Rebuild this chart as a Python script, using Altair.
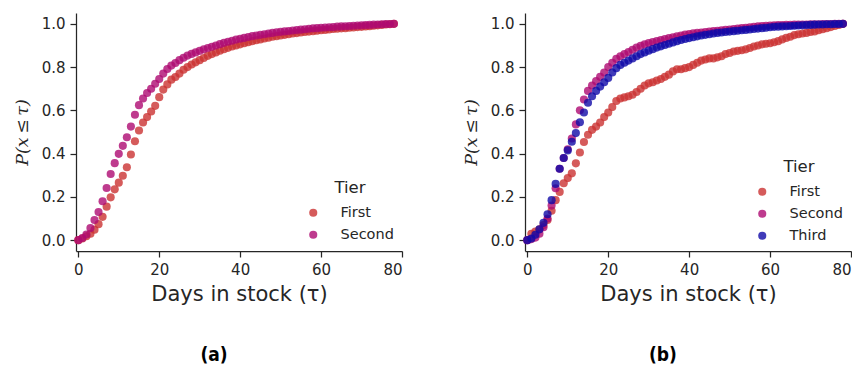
import altair as alt
import pandas as pd

days = list(range(0, 79))

# Panel (a)
a_first = [0.0, 0.008, 0.018, 0.03, 0.048, 0.074, 0.108, 0.155, 0.198, 0.235,
           0.266, 0.298, 0.337, 0.396, 0.457, 0.507, 0.544, 0.569, 0.595, 0.621,
           0.661, 0.696, 0.72, 0.742, 0.754, 0.77, 0.788, 0.80, 0.812, 0.822,
           0.832, 0.842, 0.852, 0.86, 0.868, 0.876, 0.883, 0.889, 0.895, 0.90,
           0.905, 0.91, 0.915, 0.92, 0.924, 0.928, 0.932, 0.936, 0.94, 0.943,
           0.946, 0.949, 0.952, 0.955, 0.957, 0.96, 0.962, 0.964, 0.966, 0.968,
           0.970, 0.972, 0.974, 0.976, 0.977, 0.979, 0.98, 0.982, 0.983, 0.985,
           0.986, 0.988, 0.989, 0.991, 0.993, 0.995, 0.997, 0.998, 1.0]
a_second = [0.0, 0.01, 0.026, 0.056, 0.093, 0.13, 0.18, 0.241, 0.306, 0.356,
            0.399, 0.436, 0.476, 0.525, 0.58, 0.624, 0.655, 0.68, 0.70, 0.723,
            0.745, 0.77, 0.791, 0.807, 0.819, 0.832, 0.843, 0.853, 0.861, 0.868,
            0.875, 0.882, 0.888, 0.894, 0.90, 0.906, 0.912, 0.917, 0.922, 0.927,
            0.931, 0.935, 0.939, 0.943, 0.946, 0.949, 0.952, 0.955, 0.958, 0.961,
            0.963, 0.965, 0.967, 0.969, 0.971, 0.973, 0.975, 0.977, 0.979, 0.98,
            0.982, 0.983, 0.984, 0.985, 0.987, 0.988, 0.989, 0.99, 0.991, 0.992,
            0.993, 0.994, 0.995, 0.996, 0.997, 0.998, 0.999, 0.999, 1.0]

# Panel (b)
b_first = [0.0, 0.03, 0.04, 0.05, 0.07, 0.093, 0.136, 0.185, 0.223, 0.263,
           0.287, 0.309, 0.355, 0.405, 0.454, 0.487, 0.51, 0.525, 0.544, 0.569,
           0.59, 0.615, 0.643, 0.655, 0.66, 0.665, 0.672, 0.685, 0.70, 0.715,
           0.725, 0.73, 0.738, 0.745, 0.755, 0.765, 0.78, 0.79, 0.79, 0.795,
           0.80, 0.81, 0.82, 0.83, 0.835, 0.84, 0.84, 0.845, 0.85, 0.86,
           0.865, 0.872, 0.875, 0.878, 0.882, 0.888, 0.895, 0.90, 0.905, 0.908,
           0.91, 0.915, 0.92, 0.928, 0.935, 0.94, 0.948, 0.952, 0.955, 0.958,
           0.962, 0.965, 0.97, 0.975, 0.98, 0.985, 0.99, 0.995, 1.0]
b_second = [0.0, 0.005, 0.012, 0.03, 0.06, 0.10, 0.16, 0.24, 0.33, 0.38,
            0.42, 0.47, 0.535, 0.60, 0.65, 0.69, 0.715, 0.735, 0.755, 0.775,
            0.80, 0.82, 0.838, 0.85, 0.86, 0.87, 0.88, 0.89, 0.898, 0.905,
            0.911, 0.916, 0.92, 0.925, 0.93, 0.934, 0.938, 0.942, 0.946, 0.95,
            0.953, 0.956, 0.958, 0.96, 0.962, 0.964, 0.966, 0.968, 0.97, 0.972,
            0.974, 0.976, 0.978, 0.98, 0.982, 0.984, 0.986, 0.988, 0.99, 0.991,
            0.992, 0.993, 0.994, 0.994, 0.995, 0.995, 0.996, 0.996, 0.997, 0.997,
            0.998, 0.998, 0.998, 0.999, 0.999, 0.999, 1.0, 1.0, 1.0]
b_third = [0.0, 0.008, 0.025, 0.05, 0.08, 0.12, 0.185, 0.26, 0.33, 0.38,
           0.415, 0.455, 0.495, 0.545, 0.59, 0.635, 0.665, 0.69, 0.71, 0.73,
           0.75, 0.775, 0.795, 0.81, 0.82, 0.83, 0.84, 0.85, 0.86, 0.868,
           0.876, 0.883, 0.89, 0.896, 0.902, 0.908, 0.914, 0.92, 0.925, 0.93,
           0.934, 0.938, 0.942, 0.946, 0.949, 0.952, 0.955, 0.958, 0.96, 0.962,
           0.964, 0.966, 0.968, 0.97, 0.972, 0.974, 0.976, 0.978, 0.98, 0.982,
           0.984, 0.986, 0.987, 0.988, 0.989, 0.99, 0.991, 0.992, 0.993, 0.994,
           0.995, 0.996, 0.997, 0.997, 0.998, 0.998, 0.999, 0.999, 1.0]

tiers = ["First", "Second", "Third"]
tier_colors = ["#cb3232", "#ae0a72", "#100aa8"]


def long_df(series):
    rows = []
    for name, vals in series:
        for d, v in zip(days, vals):
            rows.append({"day": d, "P": v, "Tier": name})
    return pd.DataFrame(rows)


df_a = long_df([("First", a_first), ("Second", a_second)])
df_b = long_df([("First", b_first), ("Second", b_second), ("Third", b_third)])

TXT = "#262626"


def panel(df, n, label, legend_y):
    return alt.Chart(df).mark_circle(size=66, opacity=0.8).encode(
        x=alt.X("day:Q",
                scale=alt.Scale(domain=[-0.57, 80], nice=False, zero=False),
                axis=alt.Axis(values=[0, 20, 40, 60, 80], title="Days in stock (τ)",
                              format="d")),
        y=alt.Y("P:Q",
                scale=alt.Scale(domain=[-0.05, 1.05], nice=False, zero=False),
                axis=alt.Axis(values=[0, 0.2, 0.4, 0.6, 0.8, 1.0], format=".1f",
                              title="P(x\u2009≤\u2009τ)", titleFont="DejaVu Serif",
                              titleFontStyle="italic", titleFontWeight="normal",
                              titleFontSize=17.5, titlePadding=10)),
        color=alt.Color("Tier:N",
                        scale=alt.Scale(domain=tiers[:n], range=tier_colors[:n]),
                        legend=alt.Legend(orient="none", legendX=230, legendY=legend_y,
                                          title="Tier", titleAnchor="middle",
                                          titleFontSize=16.5, titleFontWeight="normal",
                                          titleColor=TXT, titlePadding=9,
                                          labelFontSize=14.5, labelColor=TXT,
                                          labelOffset=20, symbolSize=66,
                                          symbolOpacity=0.8, rowPadding=7,
                                          symbolStrokeWidth=0)),
        order=alt.Order("idx:Q"),
    ).transform_window(idx="row_number()").properties(
        width=326, height=238,
        title=alt.TitleParams(label, orient="bottom", anchor="middle",
                              font="DejaVu Sans Condensed", fontWeight="bold",
                              fontSize=19, color="black", offset=42, dx=-25),
    )


chart = alt.hconcat(
    panel(df_a, 2, "(a)", 167),
    panel(df_b, 3, "(b)", 146),
    spacing=59,
    padding={"left": 5, "top": 5, "right": 0, "bottom": 0},
).resolve_scale(color="independent").configure_view(stroke=None).configure_axis(
    grid=False, domainColor=TXT, domainWidth=1.25, tickColor=TXT, tickWidth=1.25,
    tickSize=6, labelFont="DejaVu Sans", labelFontSize=15, labelColor=TXT,
    labelPadding=5, titleFont="DejaVu Sans", titleFontSize=21, titleColor=TXT,
    titleFontWeight="normal",
).configure_axisX(titlePadding=6).configure_legend(labelFont="DejaVu Sans",
                                                   titleFont="DejaVu Sans")

chart.save("out.html", embed_options={"renderer": "svg", "actions": False})
